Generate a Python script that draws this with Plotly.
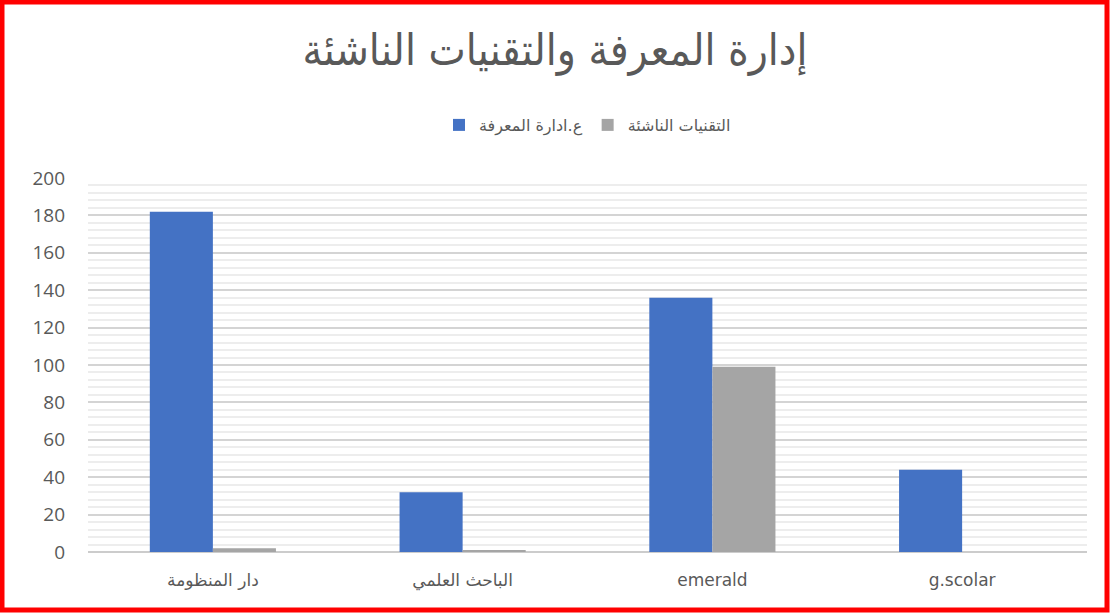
import plotly.graph_objects as go

categories = ["دار المنظومة", "الباحث العلمي", "emerald", "g.scolar"]
series_km = [182, 32, 136, 44]
series_et = [2, 1, 99, 0]
name_km = "ع.ادارة المعرفة"
name_et = "التقنيات الناشئة"
title_text = "إدارة المعرفة والتقنيات الناشئة"

W, H = 1110, 614
ml, mr, mt, mb = 88, 23, 178, 62
pw, ph = W - ml - mr, H - mt - mb

fig = go.Figure()
fig.add_trace(go.Bar(x=categories, y=series_km, name=name_km,
                     marker=dict(color="#4472C4", line=dict(width=0))))
fig.add_trace(go.Bar(x=categories, y=series_et, name=name_et,
                     marker=dict(color="#A5A5A5", line=dict(width=0))))

fig.update_layout(
    width=W, height=H,
    margin=dict(l=ml, r=mr, t=mt, b=mb),
    paper_bgcolor="white", plot_bgcolor="white",
    barmode="group", bargap=0.495, bargroupgap=0,
    title=dict(text=title_text, x=0.5, xanchor="center", y=1 - 50 / H, yanchor="middle",
               font=dict(family="DejaVu Sans Condensed, DejaVu Sans", size=44, color="#595959")),
    legend=dict(orientation="h", x=0.5, xanchor="center", y=1 + 53 / ph, yanchor="middle",
                font=dict(family="DejaVu Sans, Noto Sans", size=16, color="#595959"),
                traceorder="normal", itemclick=False),
    font=dict(family="Liberation Sans, Noto Sans", color="#595959"),
    xaxis=dict(showgrid=False, showline=False, ticks="", ticklabelstandoff=16,
               tickfont=dict(family="DejaVu Sans, Noto Sans", size=17, color="#595959")),
    yaxis=dict(range=[0, 200], dtick=20, showgrid=True, gridcolor="#D4D4D4", gridwidth=1.5,
               zeroline=True, zerolinecolor="#CCCCCC", zerolinewidth=2,
               tickfont=dict(family="Open Sans, Liberation Sans", size=19, color="#595959"), ticks="",
               ticklabelstandoff=22,
               minor=dict(dtick=4, showgrid=True, gridcolor="#EDEDED", gridwidth=1.5)),
    shapes=[dict(type="rect", xref="paper", yref="paper",
                 x0=(2 - ml) / pw, x1=(1107 - ml) / pw,
                 y0=(H - mb - 610) / ph, y1=(H - mb - 2) / ph,
                 line=dict(color="#FF0000", width=5), fillcolor="rgba(0,0,0,0)", layer="above")],
)

fig.write_html("out.html", config={"displayModeBar": False},
               post_script="document.body.style.margin='0';document.body.style.overflow='hidden';")
